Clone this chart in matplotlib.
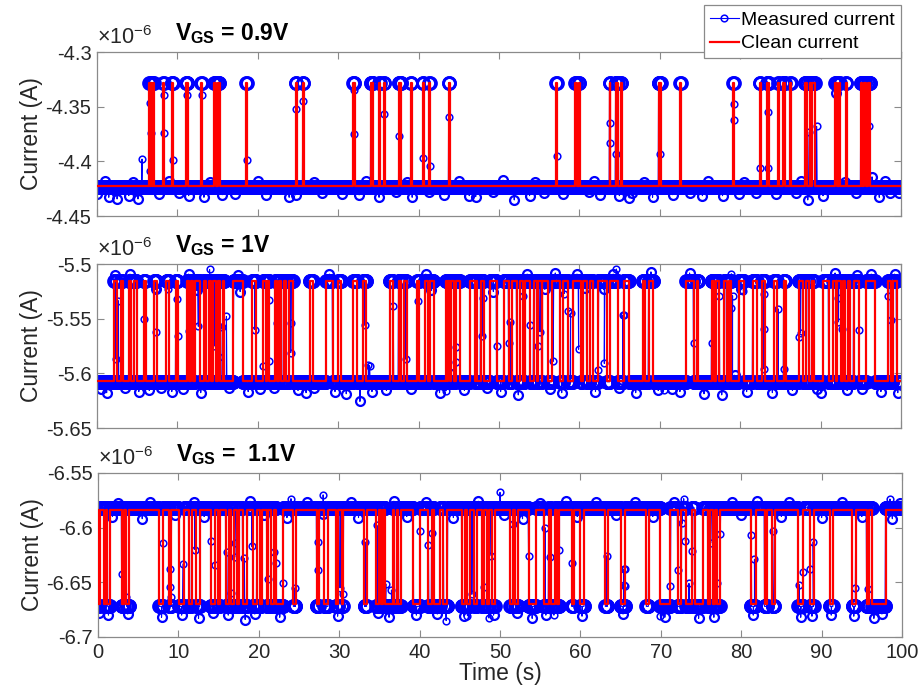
import numpy as np
import matplotlib
matplotlib.use('Agg')
import matplotlib.pyplot as plt
from matplotlib.lines import Line2D

plt.rcParams['font.family'] = ['Liberation Sans', 'DejaVu Sans']
plt.rcParams['mathtext.fontset'] = 'custom'
plt.rcParams['mathtext.rm'] = 'Liberation Sans'
plt.rcParams['mathtext.bf'] = 'Liberation Sans:bold'

# ---- data (current in units of 1e-6 A, time in s) ----
titles = [r'$\mathbf{V}_{\mathbf{GS}}$ = 0.9V',
          r'$\mathbf{V}_{\mathbf{GS}}$ = 1V',
          r'$\mathbf{V}_{\mathbf{GS}}$ =  1.1V']

# clean levels (base, switched) and measured levels (base, switched)
p1_clean = (-4.4226, -4.3284)
p1_meas = (-4.4232, -4.3282)
p2_clean = (-5.6067, -5.5153)
p2_meas = (-5.6077, -5.5152)
p3_clean = (-6.5838, -6.6699)
p3_meas = (-6.5818, -6.6720)

# intervals where the trap state is switched
p1_pulses = [(6.5, 6.6), (6.75, 6.85), (7.0, 7.1), (8.25, 8.35), (9.3, 9.45),
             (11.1, 11.3), (12.95, 13.05), (14.6, 14.75), (15.0, 15.25),
             (18.55, 18.65), (24.75, 24.85), (25.6, 25.7), (31.9, 32.05),
             (34.05, 34.35), (35.1, 35.2), (35.7, 35.8), (37.55, 37.85),
             (39.05, 39.15), (40.55, 40.65), (41.35, 41.45), (43.75, 43.85),
             (57.15, 57.25), (59.5, 59.65), (59.95, 60.05), (63.75, 63.85),
             (64.5, 64.8), (65.15, 65.25), (69.85, 70.15), (72.55, 72.65),
             (79.15, 79.25), (82.45, 82.55), (83.35, 83.6), (84.75, 84.85),
             (85.35, 85.6), (86.25, 86.35), (88.05, 88.3), (88.65, 88.75),
             (88.95, 89.3), (91.85, 92.05), (92.35, 92.45), (93.15, 93.25),
             (95.0, 95.2), (95.4, 95.6), (95.95, 96.2)]

p2_pulses = [(2.15, 2.45), (2.95, 3.2), (4.0, 4.27), (4.6, 4.94), (5.85, 6.05),
             (7.13, 7.42), (8.62, 8.92), (9.78, 10.04), (11.23, 11.48),
             (11.65, 11.9), (12.2, 12.8), (13.3, 13.56), (13.93, 14.2),
             (14.47, 14.8), (15.1, 15.3), (15.63, 15.84), (16.96, 18.12),
             (19.28, 19.78), (20.7, 21.0), (21.1, 21.43), (22.18, 22.43),
             (22.6, 22.85), (23.2, 23.5), (23.9, 24.4), (26.5, 26.9),
             (28.5, 29.3), (30.0, 30.4), (31.9, 32.4), (33.1, 33.5),
             (36.44, 36.85), (37.5, 37.8), (38.2, 38.5), (39.84, 40.1),
             (40.8, 41.2), (41.4, 41.9), (43.4, 43.57), (43.7, 43.9),
             (44.03, 44.4), (44.6, 45.15), (46.4, 47.0), (47.1, 47.3),
             (47.7, 48.1), (48.9, 49.7), (50.6, 51.2), (51.6, 52.2),
             (52.6, 53.0), (53.2, 53.9), (54.3, 54.7), (54.9, 55.3),
             (55.4, 56.1), (56.6, 57.6), (58.0, 58.6), (59.2, 60.2),
             (60.4, 60.9), (61.3, 61.7), (62.35, 63.4), (63.8, 64.8),
             (65.5, 66.2), (67.9, 68.2), (68.6, 69.2), (73.3, 74.2),
             (74.6, 74.8), (76.45, 76.75), (77.0, 77.4), (78.0, 78.3),
             (78.65, 78.9), (79.8, 80.5), (81.55, 82.1), (82.7, 83.1),
             (84.2, 84.6), (85.4, 85.65), (87.3, 87.8), (88.2, 88.5),
             (88.9, 89.2), (90.35, 91.0), (91.6, 91.9), (92.1, 92.5),
             (92.75, 93.0), (93.45, 93.7), (94.1, 94.8), (95.7, 96.8),
             (98.4, 98.7), (98.95, 99.45)]

p3_pulses = [(0.0, 0.2), (0.75, 0.96), (1.17, 1.46), (2.95, 3.24), (3.53, 3.86),
             (7.6, 8.1), (8.84, 9.14), (10.05, 10.71), (11.3, 11.63),
             (12.25, 12.66), (14.03, 14.53), (14.94, 15.16), (15.9, 16.3),
             (16.6, 16.94), (17.23, 17.56), (17.98, 18.56), (19.23, 19.73),
             (20.14, 20.35), (20.97, 21.17), (21.47, 21.88), (22.2, 23.04),
             (24.3, 24.58), (27.2, 27.5), (28.15, 28.64), (29.6, 29.9),
             (30.3, 30.5), (33.13, 33.42), (34.6, 34.9), (35.2, 35.5),
             (35.74, 36.66), (36.86, 37.24), (37.36, 37.66), (39.23, 40.06),
             (41.1, 41.5), (41.8, 42.55), (42.96, 43.46), (45.25, 45.67),
             (45.95, 46.29), (46.82, 47.12), (47.74, 48.03), (48.36, 48.69),
             (49.0, 49.4), (51.27, 51.6), (51.9, 52.3), (53.55, 54.5),
             (55.42, 56.04), (56.34, 56.88), (57.1, 57.4), (58.95, 59.15),
             (60.0, 60.5), (63.1, 63.4), (65.05, 65.6), (68.2, 68.5),
             (69.95, 71.2), (72.1, 72.57), (73.15, 73.9), (74.2, 75.3),
             (75.84, 76.18), (76.5, 76.8), (77.0, 77.4), (81.16, 81.78),
             (82.9, 83.24), (83.86, 84.15), (87.1, 87.72), (88.54, 89.04),
             (91.03, 91.41), (93.82, 94.23), (95.6, 95.9), (96.3, 97.95)]

# noise excursions of the measured band, relative to the current level
p1_band = [(0.0, -0.0067), (1.0, 0.005), (1.46, -0.0097), (2.5, -0.0112),
           (3.95, -0.0082), (4.5, 0.004), (5.1, -0.0112), (7.7, -0.0067),
           (9.0, 0.005), (10.2, -0.0061), (11.4, -0.0082), (13.3, -0.0097),
           (14.0, 0.004), (15.6, -0.0073), (17.2, -0.0067), (20.0, 0.005),
           (21.0, -0.0073), (23.9, -0.0097), (24.7, -0.0075), (27.0, 0.004),
           (28.0, -0.0061), (30.5, -0.0067), (32.6, -0.0075), (33.5, 0.005),
           (35.08, -0.0097), (37.15, -0.0051), (38.5, 0.004), (39.2, -0.0097),
           (41.3, -0.0051), (43.2, -0.0073), (45.0, 0.005), (46.3, -0.0082),
           (47.1, -0.0091), (49.2, -0.0051), (50.5, 0.006), (51.9, -0.0121),
           (53.8, -0.0082), (54.5, 0.004), (55.6, -0.0061), (57.9, -0.0067),
           (61.2, -0.0051), (61.8, 0.005), (62.5, -0.0073), (64.97, -0.0082),
           (66.2, -0.0103), (66.6, -0.0061), (68.0, 0.004), (69.1, -0.0097),
           (71.6, -0.0073), (73.7, -0.0061), (75.3, -0.0082), (76.0, 0.005),
           (77.8, -0.0082), (79.9, -0.0067), (80.5, 0.004), (82.0, -0.0061),
           (84.5, -0.0067), (86.97, -0.0061), (87.5, 0.005), (88.4, -0.0121),
           (90.3, -0.0082), (91.9, -0.0097), (93.0, 0.004), (94.4, -0.0061),
           (96.4, 0.009), (97.3, -0.0097), (98.0, 0.005), (98.6, -0.0061),
           (99.8, -0.0055)]

p2_band = [(0.5, -0.007), (1.2, -0.010), (2.3, 0.005), (3.5, -0.006),
           (4.1, 0.006), (5.2, -0.009), (6.5, -0.008), (7.3, -0.008),
           (8.0, -0.006), (9.3, -0.009), (10.7, -0.007), (11.4, 0.006),
           (12.4, -0.009), (12.9, -0.010), (16.4, -0.006), (17.5, 0.005),
           (17.8, -0.010), (18.8, -0.009), (20.3, -0.007), (22.0, -0.006),
           (25.0, -0.008), (26.0, -0.010), (27.0, -0.006), (28.9, 0.006),
           (29.6, -0.009), (31.0, -0.011), (32.7, -0.018), (34.2, -0.009),
           (36.0, -0.008), (39.0, -0.007), (40.9, 0.006), (41.6, -0.009),
           (42.6, -0.010), (44.0, 0.007), (45.7, -0.008), (48.5, -0.006),
           (49.3, -0.010), (50.2, -0.009), (52.4, -0.012), (53.5, 0.006),
           (55.7, -0.008), (56.3, -0.007), (57.0, 0.007), (57.8, -0.010),
           (59.7, 0.006), (60.7, -0.007), (62.0, -0.009), (63.0, -0.008),
           (64.2, 0.006), (64.9, -0.006), (67.0, -0.010), (68.9, 0.008),
           (69.8, -0.008), (71.5, -0.007), (72.5, -0.009), (73.7, 0.007),
           (75.5, -0.011), (77.7, -0.012), (79.3, 0.006), (80.1, -0.008),
           (80.8, -0.009), (84.0, -0.010), (86.5, -0.008), (89.5, -0.007),
           (90.0, -0.010), (91.8, 0.007), (93.3, -0.008), (94.5, 0.005),
           (95.2, -0.007), (96.3, 0.006), (97.5, -0.009), (99.2, 0.006),
           (99.6, -0.010)]

p3_band = [(0.1, -0.006), (1.3, -0.008), (1.8, -0.008), (2.5, 0.004),
           (3.7, -0.007), (5.5, -0.010), (6.5, 0.005), (7.9, -0.010),
           (9.6, -0.007), (10.4, -0.008), (12.0, 0.005), (12.5, -0.011),
           (13.2, -0.008), (14.3, -0.006), (16.2, -0.008), (18.3, -0.012),
           (18.9, 0.006), (19.5, -0.007), (20.6, -0.007), (22.6, -0.010),
           (23.5, -0.009), (26.0, 0.005), (28.0, -0.006), (29.8, -0.009),
           (31.5, 0.005), (32.4, -0.009), (34.8, -0.006), (36.2, -0.010),
           (36.8, 0.006), (38.4, -0.008), (39.6, -0.008), (40.8, 0.005),
           (42.2, -0.007), (44.2, -0.009), (45.5, -0.009), (47.3, 0.006),
           (49.2, -0.008), (50.5, -0.007), (52.1, -0.006), (52.8, -0.010),
           (54.0, -0.011), (55.0, 0.004), (55.7, -0.008), (58.2, 0.006),
           (59.6, -0.008), (60.2, -0.009), (62.0, 0.005), (64.4, -0.007),
           (65.3, -0.007), (66.8, 0.005), (69.0, -0.008), (70.5, -0.010),
           (71.6, 0.005), (74.7, -0.011), (76.6, -0.010), (78.8, 0.005),
           (80.0, -0.007), (81.5, -0.008), (82.0, 0.006), (85.0, -0.008),
           (86.0, 0.005), (87.4, -0.010), (88.8, -0.009), (90.0, -0.009),
           (91.2, -0.008), (92.5, 0.005), (94.0, -0.009), (95.0, -0.008),
           (96.5, -0.011), (97.5, -0.007), (98.8, -0.010), (99.7, 0.004)]

# samples caught mid-transition (absolute values)
p1_out = [(5.6, -4.398), (6.56, -4.347), (6.72, -4.374), (6.56, -4.409),
          (8.3, -4.339), (8.3, -4.374), (9.46, -4.399), (11.2, -4.339),
          (13.0, -4.339), (18.6, -4.399), (24.8, -4.352), (25.65, -4.345),
          (31.97, -4.375), (31.97, -4.335), (35.7, -4.357), (37.6, -4.377),
          (40.6, -4.397), (41.4, -4.404), (43.8, -4.359), (57.2, -4.395),
          (63.8, -4.365), (63.8, -4.383), (64.5, -4.393), (70.0, -4.393),
          (79.2, -4.348), (79.2, -4.362), (82.5, -4.406), (83.5, -4.406),
          (83.4, -4.355), (88.6, -4.373), (89.5, -4.368), (96.0, -4.368)]

p2_out = [(2.36, -5.587), (2.65, -5.5336), (5.9, -5.550), (7.3, -5.523),
          (7.4, -5.562), (8.8, -5.523), (10.0, -5.532), (10.1, -5.566),
          (11.5, -5.561), (12.6, -5.557), (14.0, -5.505), (14.6, -5.575),
          (15.0, -5.557), (15.2, -5.585), (15.6, -5.558), (16.1, -5.548),
          (19.6, -5.560), (20.7, -5.593), (21.4, -5.589), (21.4, -5.533),
          (22.35, -5.554), (24.1, -5.554), (24.1, -5.581), (33.3, -5.556),
          (33.75, -5.592), (33.9, -5.593), (36.85, -5.538), (38.4, -5.587),
          (39.9, -5.534), (43.4, -5.616), (44.65, -5.576), (44.65, -5.590),
          (47.9, -5.566), (48.0, -5.531), (49.7, -5.575), (51.2, -5.572),
          (51.4, -5.553), (53.0, -5.529), (53.9, -5.556), (54.9, -5.575),
          (55.1, -5.562), (56.75, -5.589), (58.1, -5.527), (58.6, -5.543),
          (58.9, -5.545), (59.9, -5.578), (62.35, -5.597), (63.1, -5.591),
          (64.6, -5.5046), (65.4, -5.547), (65.5, -5.547), (70.5, -5.615),
          (74.25, -5.572), (76.5, -5.572), (77.4, -5.529), (78.8, -5.540),
          (78.9, -5.509), (79.05, -5.529), (80.4, -5.525), (82.95, -5.527),
          (82.95, -5.559), (82.95, -5.596), (84.7, -5.541), (85.45, -5.596),
          (87.3, -5.567), (87.5, -5.563), (92.2, -5.531), (92.2, -5.553),
          (92.6, -5.559), (94.8, -5.560), (98.4, -5.529), (98.7, -5.551)]

p3_out = [(2.95, -6.642), (3.45, -6.663), (8.1, -6.614), (9.0, -6.638),
          (9.0, -6.654), (9.05, -6.663), (10.6, -6.633), (12.05, -6.620),
          (14.03, -6.612), (14.5, -6.634), (16.0, -6.622), (16.5, -6.660),
          (17.0, -6.614), (17.0, -6.627), (18.2, -6.628), (19.1, -6.617),
          (21.2, -6.647), (21.9, -6.622), (22.2, -6.632), (22.96, -6.651),
          (24.0, -6.5735), (24.5, -6.655), (27.4, -6.613), (27.4, -6.639),
          (28.0, -6.570), (30.1, -6.655), (30.5, -6.661), (33.2, -6.613),
          (34.7, -6.598), (35.8, -6.6515), (36.5, -6.657), (40.06, -6.603),
          (41.1, -6.6156), (41.5, -6.605), (43.3, -6.685), (45.95, -6.6805),
          (46.5, -6.661), (48.0, -6.6546), (48.6, -6.6826), (48.9, -6.6256),
          (50.0, -6.5677), (51.6, -6.597), (53.55, -6.626), (55.6, -6.600),
          (56.25, -6.627), (56.7, -6.680), (57.4, -6.620), (58.95, -6.632),
          (63.3, -6.6256), (65.4, -6.638), (65.4, -6.652), (65.5, -6.638),
          (65.5, -6.653), (69.95, -6.681), (71.2, -6.653), (72.1, -6.639),
          (72.65, -6.596), (72.85, -6.5735), (73.06, -6.612), (73.5, -6.651),
          (73.9, -6.621), (76.2, -6.614), (77.0, -6.651), (77.4, -6.6055),
          (81.25, -6.607), (81.65, -6.629), (83.9, -6.603), (87.2, -6.652),
          (87.7, -6.641), (88.6, -6.638), (88.95, -6.613), (94.2, -6.655),
          (95.76, -6.656), (98.5, -6.5738)]

yticks = [[-4.45, -4.4, -4.35, -4.3],
          [-5.65, -5.6, -5.55, -5.5],
          [-6.7, -6.65, -6.6, -6.55]]
ytick_labels = [['-4.45', '-4.4', '-4.35', '-4.3'],
                ['-5.65', '-5.6', '-5.55', '-5.5'],
                ['-6.7', '-6.65', '-6.6', '-6.55']]
xticks = [0, 10, 20, 30, 40, 50, 60, 70, 80, 90, 100]

T_END = 100.0
DT = 0.05


def switched(t, pulses):
    t = np.asarray(t, dtype=float)
    s = np.zeros(t.shape, dtype=bool)
    for a, b in pulses:
        s |= (t >= a) & (t < b)
    return s


def clean_trace(pulses, levels):
    base, alt = levels
    xs, ys = [0.0], [base]
    for a, b in pulses:
        xs += [a, a, b, b]
        ys += [base, alt, alt, base]
    xs.append(T_END)
    ys.append(base)
    return np.array(xs), np.array(ys)


def measured_trace(pulses, levels, band, outliers):
    # kind: 0 = sample on a level, 1 = band noise, 2 = mid-transition sample
    base, alt = levels
    tg = np.arange(0, T_END + 1e-9, DT)
    yg = np.where(switched(tg, pulses), alt, base)
    bt = np.array([p[0] for p in band])
    bv = np.where(switched(bt, pulses), alt, base) + np.array([p[1] for p in band])
    ot = np.array([p[0] for p in outliers])
    ov = np.array([p[1] for p in outliers])
    t = np.concatenate([tg, bt, ot])
    y = np.concatenate([yg, bv, ov])
    kind = np.concatenate([np.zeros(tg.size, int), np.ones(bt.size, int),
                           np.full(ot.size, 2)])
    order = np.argsort(t, kind='stable')
    return t[order], y[order], kind[order]


panels = [(p1_pulses, p1_clean, p1_meas, p1_band, p1_out),
          (p2_pulses, p2_clean, p2_meas, p2_band, p2_out),
          (p3_pulses, p3_clean, p3_meas, p3_band, p3_out)]

W, H = 923, 698
fig = plt.figure(figsize=(W / 100, H / 100), dpi=100)
rects = [(97, 52), (97, 264), (98, 473)]
tick_col = '#262626'
spine_col = '#8a8a8a'
blue = (0, 0, 1)
marker_style = {0: (8.6, 2.0), 1: (6.4, 1.6), 2: (4.8, 1.1)}

axes = []
for i, (pulses, clean, meas, band, out) in enumerate(panels):
    x0, y0 = rects[i]
    ax = fig.add_axes([x0 / W, 1 - (y0 + 164) / H, 804 / W, 164 / H])
    axes.append(ax)
    mt, mv, kind = measured_trace(pulses, meas, band, out)
    ct, cv = clean_trace(pulses, clean)
    ax.plot(mt, mv, '-', color=blue, lw=0.8, zorder=2)
    for k, (ms, mew) in marker_style.items():
        sel = kind == k
        ax.plot(mt[sel], mv[sel], 'o', color=blue, ms=ms, mew=mew, mfc='none', zorder=2)
    ax.plot(ct, cv, '-', color='r', lw=1.6, zorder=3)

    ax.set_xlim(0, 100)
    ax.set_ylim(yticks[i][0], yticks[i][-1])
    ax.set_xticks(xticks)
    ax.set_yticks(yticks[i])
    ax.set_yticklabels(ytick_labels[i])
    if i < 2:
        ax.set_xticklabels([])
    ax.tick_params(direction='in', length=5, width=0.8, color=spine_col,
                   labelcolor=tick_col, labelsize=14.5, top=True, right=True, pad=4)
    for s in ax.spines.values():
        s.set_color(spine_col)
        s.set_linewidth(0.9)
    ax.set_ylabel('Current (A)', fontsize=16.5, color=tick_col, labelpad=2)
    ax.text(0.0, 1.02, r'$\times\mathregular{10^{-6}}$', transform=ax.transAxes,
            ha='left', va='bottom', fontsize=15.5, color=tick_col)
    ax.text(0.097, 1.035, titles[i], transform=ax.transAxes, ha='left',
            va='bottom', fontsize=16.5, fontweight='bold', color='k')

axes[2].set_xlabel('Time (s)', fontsize=16.5, color=tick_col, labelpad=0)

h_meas = Line2D([], [], color=blue, lw=0.8, marker='o', ms=4.8, mew=1.1, mfc='none')
h_clean = Line2D([], [], color='r', lw=1.6)
leg = fig.legend([h_meas, h_clean], ['Measured current', 'Clean current'],
                 loc='upper right', bbox_to_anchor=(901 / W, 1 - 5.5 / H),
                 bbox_transform=fig.transFigure, fontsize=14, frameon=True,
                 fancybox=False, framealpha=1, edgecolor='#8a8a8a',
                 handlelength=1.45, handletextpad=0.15, labelspacing=0.3,
                 borderpad=0.3, borderaxespad=0)
leg.get_frame().set_linewidth(0.9)

fig.savefig('out.png', dpi=100)
